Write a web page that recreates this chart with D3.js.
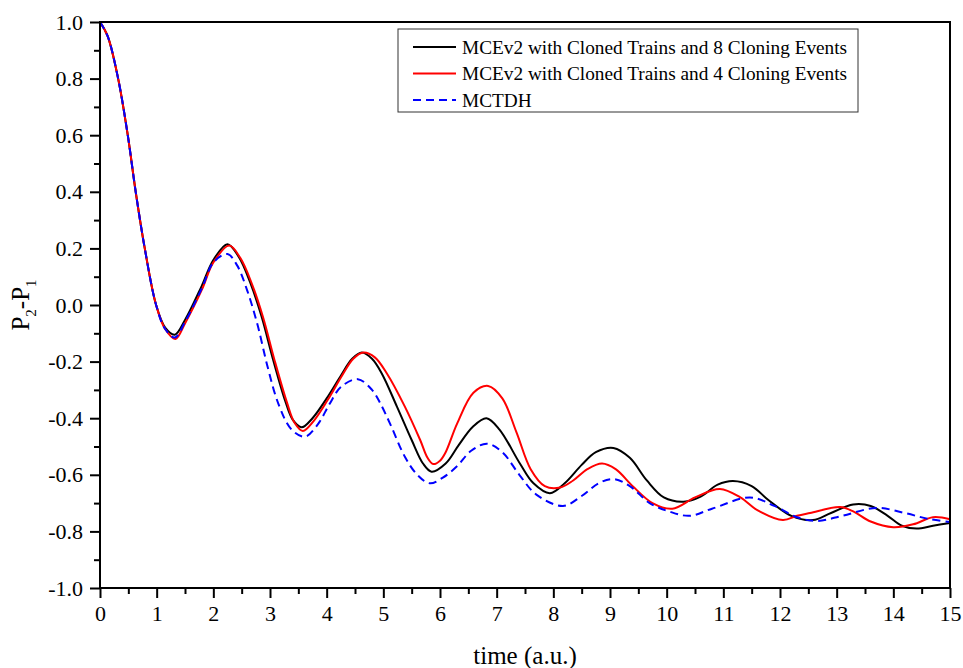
<!DOCTYPE html>
<html>
<head>
<meta charset="utf-8">
<script src="https://cdn.jsdelivr.net/npm/d3@7"></script>
<style>
  body { margin: 0; background: #fff; }
  text { font-family: "Liberation Serif", "Times New Roman", serif; }
</style>
</head>
<body>
<svg width="963" height="668"></svg>
<script>
// series names
var seriesNames = [
  "MCEv2 with Cloned Trains and 8 Cloning Events",
  "MCEv2 with Cloned Trains and 4 Cloning Events",
  "MCTDH"
];

// black: 8 cloning events
var tBlack = [0, 0.135, 0.32, 0.49, 0.63, 0.79, 0.99, 1.15, 1.32, 1.5, 1.79, 2.0, 2.25, 2.45, 2.65, 2.85, 3.05, 3.27, 3.4, 3.56, 3.75, 4.0, 4.25, 4.45, 4.62, 4.8, 4.97, 5.24, 5.5, 5.7, 5.85, 6.1, 6.33, 6.58, 6.82, 7.05, 7.41, 7.65, 7.94, 8.2, 8.5, 8.75, 9.06, 9.35, 9.65, 9.95, 10.3, 10.6, 10.9, 11.17, 11.5, 11.8, 12.2, 12.58, 12.9, 13.29, 13.6, 13.9, 14.15, 14.41, 14.7, 15.0];
var vBlack = [1.0, 0.95, 0.8, 0.6, 0.4, 0.2, 0.0, -0.08, -0.105, -0.053, 0.065, 0.159, 0.215, 0.17, 0.08, -0.04, -0.19, -0.34, -0.405, -0.432, -0.4, -0.33, -0.25, -0.19, -0.168, -0.19, -0.241, -0.359, -0.477, -0.56, -0.589, -0.56, -0.495, -0.43, -0.40, -0.44, -0.56, -0.63, -0.665, -0.63, -0.565, -0.52, -0.505, -0.54, -0.62, -0.68, -0.695, -0.677, -0.635, -0.622, -0.64, -0.69, -0.745, -0.76, -0.735, -0.705, -0.71, -0.745, -0.78, -0.79, -0.78, -0.77];

// red: 4 cloning events
var tRed = [0, 0.135, 0.32, 0.49, 0.63, 0.79, 0.99, 1.15, 1.33, 1.5, 1.8, 2.0, 2.28, 2.48, 2.68, 2.88, 3.08, 3.3, 3.43, 3.58, 3.77, 4.02, 4.27, 4.47, 4.65, 4.85, 5.06, 5.38, 5.65, 5.78, 5.88, 6.0, 6.1, 6.3, 6.59, 6.85, 7.1, 7.35, 7.6, 7.85, 8.12, 8.35, 8.6, 8.86, 9.1, 9.4, 9.75, 10.1, 10.5, 10.94, 11.3, 11.6, 12.05, 12.3, 12.53, 13.06, 13.3, 13.6, 14.0, 14.35, 14.7, 15.0];
var vRed = [1.0, 0.95, 0.8, 0.6, 0.4, 0.2, 0.0, -0.085, -0.12, -0.065, 0.055, 0.15, 0.21, 0.165, 0.075, -0.045, -0.195, -0.345, -0.415, -0.445, -0.41, -0.335, -0.25, -0.19, -0.168, -0.185, -0.241, -0.359, -0.477, -0.54, -0.562, -0.55, -0.52, -0.42, -0.31, -0.286, -0.33, -0.45, -0.58, -0.64, -0.645, -0.62, -0.58, -0.56, -0.58, -0.64, -0.7, -0.72, -0.68, -0.65, -0.68, -0.725, -0.76, -0.745, -0.735, -0.714, -0.73, -0.765, -0.785, -0.775, -0.75, -0.757];

// blue dashed: MCTDH
var tBlue = [0, 0.135, 0.32, 0.49, 0.63, 0.79, 0.99, 1.15, 1.32, 1.5, 1.8, 2.0, 2.25, 2.42, 2.6, 2.78, 2.96, 3.15, 3.38, 3.62, 3.85, 4.05, 4.25, 4.55, 4.8, 4.94, 5.12, 5.38, 5.6, 5.82, 6.05, 6.3, 6.55, 6.83, 7.1, 7.4, 7.7, 8.17, 8.5, 8.8, 9.06, 9.35, 9.7, 10.05, 10.4, 10.8, 11.47, 11.9, 12.3, 12.65, 13.1, 13.7, 14.2, 14.6, 15.0];
var vBlue = [1.0, 0.95, 0.8, 0.6, 0.4, 0.2, 0.0, -0.085, -0.115, -0.06, 0.06, 0.15, 0.18, 0.14, 0.05, -0.07, -0.22, -0.35, -0.44, -0.465, -0.42, -0.35, -0.29, -0.262, -0.3, -0.345, -0.42, -0.536, -0.6, -0.63, -0.61, -0.57, -0.515, -0.49, -0.52, -0.6, -0.67, -0.71, -0.675, -0.63, -0.615, -0.64, -0.7, -0.73, -0.745, -0.72, -0.68, -0.71, -0.75, -0.763, -0.745, -0.717, -0.735, -0.755, -0.767];

var xTicks = d3.range(0, 16, 1);
var yTicks = [-1.0, -0.8, -0.6, -0.4, -0.2, 0.0, 0.2, 0.4, 0.6, 0.8, 1.0];

var svg = d3.select("svg");
var pLeft = 100, pRight = 950, pTop = 22, pBottom = 588;

var x = d3.scaleLinear().domain([0, 15]).range([pLeft, pRight]);
var y = d3.scaleLinear().domain([-1, 1]).range([pBottom, pTop]);

var line = d3.line()
  .x(d => x(d[0]))
  .y(d => y(d[1]))
  .curve(d3.curveCatmullRom.alpha(0.5));

var series = [
  {pts: d3.zip(tBlack, vBlack), color: "#000000", dash: null},
  {pts: d3.zip(tRed, vRed), color: "#ff0000", dash: null},
  {pts: d3.zip(tBlue, vBlue), color: "#0000ff", dash: "8,5"}
];

svg.append("g")
  .selectAll("path")
  .data(series)
  .enter()
  .append("path")
  .attr("d", d => line(d.pts))
  .attr("fill", "none")
  .attr("stroke", d => d.color)
  .attr("stroke-width", 2)
  .attr("stroke-dasharray", d => d.dash);

// frame
svg.append("rect")
  .attr("x", pLeft).attr("y", pTop)
  .attr("width", pRight - pLeft).attr("height", pBottom - pTop)
  .attr("fill", "none").attr("stroke", "#000").attr("stroke-width", 2);

// x axis
var xAxis = d3.axisBottom(x).tickValues(xTicks).tickSize(10).tickPadding(7).tickFormat(d3.format("d"));
var gx = svg.append("g").attr("transform", `translate(0,${pBottom})`).call(xAxis);
gx.select(".domain").remove();
gx.selectAll("line").attr("stroke-width", 2);
gx.selectAll("text").style("font-size", "22px").style("font-family", "Liberation Serif");

var gxm = svg.append("g").attr("transform", `translate(0,${pBottom})`)
  .call(d3.axisBottom(x).tickValues(d3.range(0.5, 15, 1)).tickSize(6).tickFormat(""));
gxm.select(".domain").remove();
gxm.selectAll("line").attr("stroke-width", 2);

// y axis
var yAxis = d3.axisLeft(y).tickValues(yTicks).tickSize(10).tickPadding(7).tickFormat(d3.format(".1f"));
var gy = svg.append("g").attr("transform", `translate(${pLeft},0)`).call(yAxis);
gy.select(".domain").remove();
gy.selectAll("line").attr("stroke-width", 2);
gy.selectAll("text").style("font-size", "22px").style("font-family", "Liberation Serif")
  .text(d => d3.format(".1f")(d).replace("−", "-"));

var gym = svg.append("g").attr("transform", `translate(${pLeft},0)`)
  .call(d3.axisLeft(y).tickValues(d3.range(-0.9, 1.0, 0.2)).tickSize(6).tickFormat(""));
gym.select(".domain").remove();
gym.selectAll("line").attr("stroke-width", 2);

// axis titles
svg.append("text")
  .attr("x", (pLeft + pRight) / 2).attr("y", 664)
  .attr("text-anchor", "middle")
  .style("font-size", "25px")
  .text("time (a.u.)");

var yl = svg.append("text")
  .attr("transform", `translate(29,${(pTop + pBottom) / 2}) rotate(-90)`)
  .attr("text-anchor", "middle")
  .style("font-size", "25px");
yl.append("tspan").text("P");
yl.append("tspan").text("2").attr("dy", 7).style("font-size", "15px");
yl.append("tspan").text("-P").attr("dy", -7);
yl.append("tspan").text("1").attr("dy", 7).style("font-size", "15px");

// legend
var lg = svg.append("g");
lg.append("rect")
  .attr("x", 398).attr("y", 29).attr("width", 460).attr("height", 83)
  .attr("fill", "#fff").attr("stroke", "#333").attr("stroke-width", 1);

var rows = lg.selectAll("g.row")
  .data(series)
  .enter()
  .append("g")
  .attr("transform", (d, i) => `translate(0,${47 + i * 26.5})`);

rows.append("line")
  .attr("x1", 413).attr("x2", 456)
  .attr("stroke", d => d.color).attr("stroke-width", 2)
  .attr("stroke-dasharray", d => d.dash);

rows.append("text")
  .attr("x", 462).attr("dy", "0.35em")
  .style("font-size", "19.3px")
  .text((d, i) => seriesNames[i]);
</script>
</body>
</html>
